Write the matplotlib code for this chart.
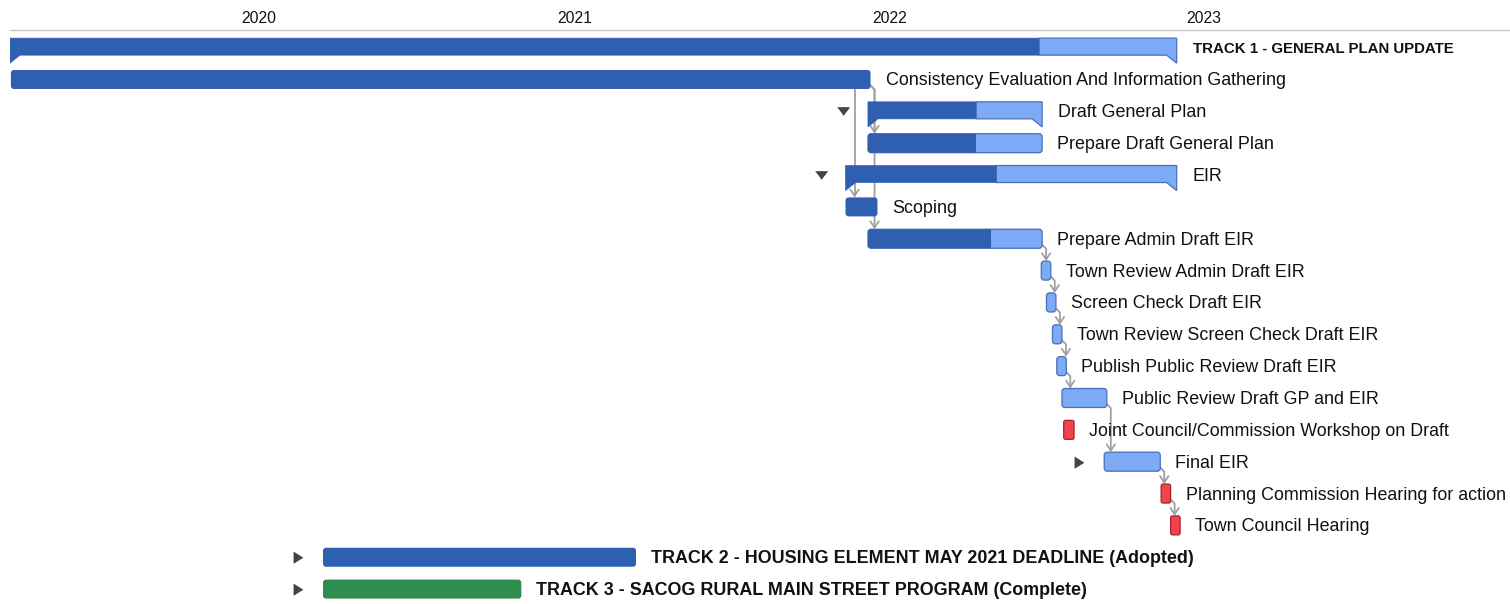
import matplotlib
matplotlib.use("Agg")
import matplotlib.pyplot as plt
import matplotlib.dates as mdates
import matplotlib.transforms as mtrans
from matplotlib.patches import FancyBboxPatch, Polygon, Rectangle, FancyArrowPatch
from matplotlib.path import Path
import datetime as dt

plt.rcParams['font.family'] = ['Liberation Sans', 'DejaVu Sans']

# ---------------- data ----------------
names = [
    "TRACK 1 - GENERAL PLAN UPDATE",
    "Consistency Evaluation And Information Gathering",
    "Draft General Plan",
    "Prepare Draft General Plan",
    "EIR",
    "Scoping",
    "Prepare Admin Draft EIR",
    "Town Review Admin Draft EIR",
    "Screen Check Draft EIR",
    "Town Review Screen Check Draft EIR",
    "Publish Public Review Draft EIR",
    "Public Review Draft GP and EIR",
    "Joint Council/Commission Workshop on Draft",
    "Final EIR",
    "Planning Commission Hearing for action",
    "Town Council Hearing",
    "TRACK 2 - HOUSING ELEMENT MAY 2021 DEADLINE (Adopted)",
    "TRACK 3 - SACOG RURAL MAIN STREET PROGRAM (Complete)",
]
starts = ["2019-03-18", "2019-03-19", "2021-12-07", "2021-12-07", "2021-11-11",
          "2021-11-11", "2021-12-07", "2022-06-26", "2022-07-02", "2022-07-09",
          "2022-07-14", "2022-07-20", "2022-07-22", "2022-09-07", "2022-11-12",
          "2022-11-23", "2020-03-15", "2020-03-15"]
ends = ["2022-11-30", "2021-12-10", "2022-06-27", "2022-06-27", "2022-11-30",
        "2021-12-18", "2022-06-27", "2022-07-07", "2022-07-13", "2022-07-20",
        "2022-07-25", "2022-09-10", "2022-08-03", "2022-11-11", "2022-11-23",
        "2022-12-04", "2021-03-13", "2020-10-31"]
progress = [0.882, 1.0, 0.62, 0.62, 0.455, 1.0, 0.706, 0.0, 0.0, 0.0,
            0.0, 0.0, 0.0, 0.0, 0.0, 0.0, 1.0, 1.0]
kinds = ["summary", "task", "summary", "task", "summary", "task", "task", "task",
         "task", "task", "task", "task", "red", "task", "red", "red", "task", "green"]
icons = [None, None, "down", None, "down", None, None, None, None, None,
         None, None, None, "right", None, None, "right", "right"]
bold_rows = [0, 16, 17]
links = [(1, 3), (1, 5), (1, 6), (6, 7), (7, 8), (8, 9), (9, 10), (10, 11),
         (11, 13), (13, 14), (14, 15)]
year_labels = ["2020", "2021", "2022", "2023"]

# ---------------- style ----------------
DARK = "#2e5fb1"
LIGHT = "#7caaf7"
LIGHT_EDGE = "#4a6fb4"
RED = "#f2424b"
RED_EDGE = "#a1262d"
GREEN = "#2e8d4f"
LINK = "#a0a0a0"
ICON = "#444444"
TXT = "#111111"

W, H = 1510, 604
fig = plt.figure(figsize=(W / 100, H / 100), dpi=100)
ax = fig.add_axes([10 / W, 0, 1500 / W, 574 / H])

X0 = mdates.date2num(dt.datetime(2020, 1, 1))
xmin, xmax = X0 - 289.0, X0 + 1450.6
ymin, ymax = -0.554, 17.468
ax.set_xlim(xmin, xmax)
ax.set_ylim(ymax, ymin)

dpx = (xmax - xmin) / 1500.0     # days per pixel
rpx = (ymax - ymin) / 574.0      # rows per pixel
aspect = rpx / dpx

def d2n(s):
    return mdates.date2num(dt.datetime.strptime(s, "%Y-%m-%d"))

TH = 19 * rpx        # task height
RAD = 3 * dpx

def rbar(x0, x1, y, fc, ec=None, z=3, lw=0.9, rad=RAD):
    p = FancyBboxPatch((x0, y - TH / 2), x1 - x0, TH,
                       boxstyle=f"round,pad=0,rounding_size={rad}",
                       mutation_aspect=aspect, fc=fc,
                       ec=ec if ec else fc, lw=lw if ec else 0, zorder=z)
    ax.add_patch(p)

for i, (nm, s, e, p, k) in enumerate(zip(names, starts, ends, progress, kinds)):
    x0, x1 = d2n(s), d2n(e)
    y = i
    if k == "summary":
        top = y - 9.5 * rpx
        bot = top + 17 * rpx
        tip = top + 25 * rpx
        w = 10 * dpx
        xp = x0 + p * (x1 - x0)
        light = [(xp, top), (x1, top), (x1, tip), (x1 - w, bot), (xp, bot)]
        ax.add_patch(Polygon(light, closed=True, fc=LIGHT, ec=LIGHT_EDGE, lw=0.9, zorder=3))
        dark = [(x0, top), (xp, top), (xp, bot), (x0 + w, bot), (x0, tip)]
        ax.add_patch(Polygon(dark, closed=True, fc=DARK, ec=DARK, lw=0.5, zorder=4))
    elif k == "red":
        rbar(x0, x1, y, RED, RED_EDGE, rad=2 * dpx)
    elif k == "green":
        rbar(x0, x1, y, GREEN)
    else:
        if p >= 1.0:
            rbar(x0, x1, y, DARK)
        else:
            rbar(x0, x1, y, LIGHT, LIGHT_EDGE)
            if p > 0:
                xp = x0 + p * (x1 - x0)
                rbar(x0, xp, y, DARK, z=4)
                ax.add_patch(Rectangle((xp - 4 * dpx, y - TH / 2), 4 * dpx, TH,
                                       fc=DARK, lw=0, zorder=4))
    # label
    off = mtrans.offset_copy(ax.transData, fig=fig, x=16 if k == "summary" else 15,
                             y=-1.5, units="dots")
    if i in bold_rows:
        fs = 10.8 if i == 0 else 12.9
        ax.text(x1, y, nm, transform=off, ha="left", va="center", fontsize=fs,
                fontweight="bold", color=TXT, zorder=6)
    else:
        ax.text(x1, y, nm, transform=off, ha="left", va="center", fontsize=12.9,
                color=TXT, zorder=6)
    # icons
    ic = icons[i]
    if ic:
        offi = mtrans.offset_copy(ax.transData, fig=fig, x=-25, y=0, units="dots")
        if ic == "down":
            mk = [(-1, 0.66), (1, 0.66), (0, -0.66)]
            ax.plot([x0], [y], marker=mk, ms=8.6, color=ICON, mec=ICON, mew=0.5,
                    transform=offi, zorder=6)
        else:
            mk = [(-0.8, 1), (-0.8, -1), (0.8, 0)]
            ax.plot([x0], [y], marker=mk, ms=8.2, color=ICON, mec=ICON, mew=0.5,
                    transform=offi, zorder=6)

# links
for a, b in links:
    pe = d2n(ends[a])
    sb = d2n(starts[b])
    ta = a
    top_b = b - TH / 2
    if sb + 9 * dpx < pe:
        xv = sb + 9 * dpx
        verts = [(xv, ta + TH / 2), (xv, top_b)]
    else:
        xv = pe + 4 * dpx
        verts = [(pe, ta + 6 * rpx), (xv, ta + 10 * rpx), (xv, top_b)]
    arr = FancyArrowPatch(path=Path(verts),
                          arrowstyle="->,head_length=0.45,head_width=0.3",
                          mutation_scale=10, color=LINK, lw=1.3, zorder=2)
    ax.add_patch(arr)

# axis / ticks
ax.xaxis.tick_top()
ticks = [mdates.date2num(dt.datetime(int(t), 1, 1)) for t in year_labels]
ax.set_xticks(ticks)
ax.set_xticklabels(year_labels, fontsize=11.3, color=TXT)
ax.tick_params(axis="x", length=0, pad=3)
ax.set_yticks([])
for sp in ["left", "right", "bottom"]:
    ax.spines[sp].set_visible(False)
ax.spines["top"].set_color("#c8c8c8")
ax.spines["top"].set_linewidth(1.0)

fig.savefig("out.png", dpi=100)
